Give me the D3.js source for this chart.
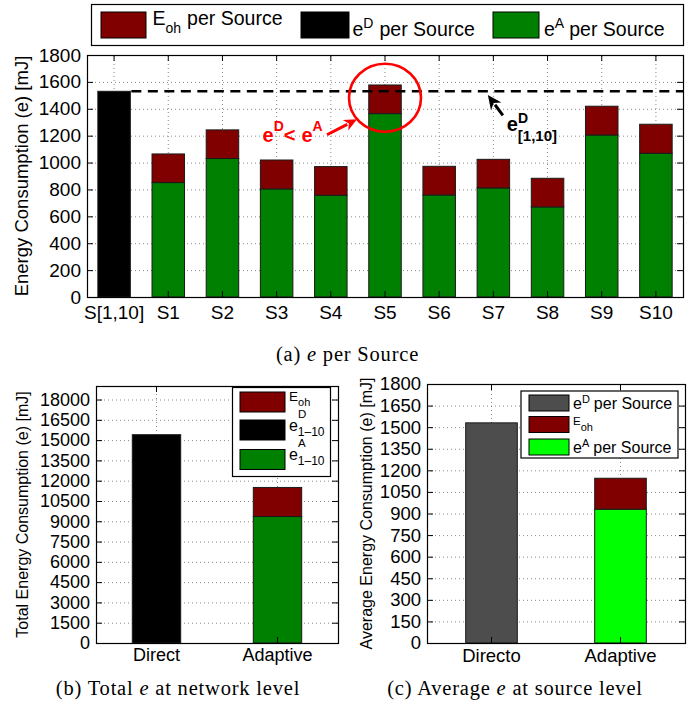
<!DOCTYPE html>
<html>
<head>
<meta charset="utf-8">
<script src="https://cdn.jsdelivr.net/npm/d3@7"></script>
<style>
  html, body { margin: 0; padding: 0; background: #fff; }
  svg { display: block; }
</style>
</head>
<body>
<svg id="fig" width="693" height="710"></svg>
<script>
// ---- (a) energy per source, mJ ----
const sourceLabels = ["S[1,10]", "S1", "S2", "S3", "S4", "S5", "S6", "S7", "S8", "S9", "S10"];
const directPerSource = [1530, 0, 0, 0, 0, 0, 0, 0, 0, 0, 0];
const adaptivePerSource = [0, 851, 1030, 804, 757, 1364, 759, 811, 670, 1205, 1069];
const overheadPerSource = [0, 213, 213, 215, 213, 213, 213, 213, 213, 214, 216];
const directReference = 1530;          // e^D over sources 1..10 (dashed level)
const ticksA = [0, 200, 400, 600, 800, 1000, 1200, 1400, 1600, 1800];

// ---- (b) total energy at network level, mJ ----
const totalLabels = ["Direct", "Adaptive"];
const totalDirect = [15400, 0];
const totalAdaptive = [0, 9350];
const totalOverhead = [0, 2150];
const ticksB = [0, 1500, 3000, 4500, 6000, 7500, 9000, 10500, 12000, 13500, 15000, 16500, 18000];

// ---- (c) average energy at source level, mJ ----
const avgLabels = ["Directo", "Adaptive"];
const avgDirect = [1530, 0];
const avgAdaptive = [0, 930];
const avgOverhead = [0, 215];
const ticksC = [0, 150, 300, 450, 600, 750, 900, 1050, 1200, 1350, 1500, 1650, 1800];

const COL = { oh: "#800000", green: "#008000", black: "#000000", gray: "#4d4d4d", lime: "#00ff00" };
const SANS = "'Liberation Sans', Arial, Helvetica, sans-serif";
const SERIF = "'Liberation Serif', 'Times New Roman', serif";

const svg = d3.select("#fig");
svg.append("rect").attr("width", 693).attr("height", 710).attr("fill", "#fff");

// Text built from tspans: each part has its own size and baseline offset
function rich(parent, x, y, parts, opts = {}) {
  const t = parent.append("text").attr("x", x).attr("y", y)
    .attr("font-family", SANS).attr("fill", opts.fill || "#000")
    .attr("font-weight", opts.bold ? "bold" : "normal");
  let cur = 0;
  parts.forEach(p => {
    const off = p.off || 0;
    const ts = t.append("tspan").text(p.t).attr("font-size", p.size).attr("dy", off - cur);
    cur = off;
    if (p.dx) ts.attr("dx", p.dx);
    if (p.x != null) ts.attr("x", x + p.x);
  });
  return t;
}

function arrow(g, x1, y1, x2, y2, color, width, head, half) {
  const a = Math.atan2(y2 - y1, x2 - x1);
  const bx = x2 - head * Math.cos(a), by = y2 - head * Math.sin(a);
  g.append("line").attr("x1", x1).attr("y1", y1).attr("x2", bx + 2 * Math.cos(a)).attr("y2", by + 2 * Math.sin(a))
    .attr("stroke", color).attr("stroke-width", width);
  const nx = -Math.sin(a), ny = Math.cos(a);
  g.append("path")
    .attr("d", `M${x2},${y2}L${bx + half * nx},${by + half * ny}L${x2 - head * 0.7 * Math.cos(a)},${y2 - head * 0.7 * Math.sin(a)}L${bx - half * nx},${by - half * ny}Z`)
    .attr("fill", color);
}

// One MATLAB-style axes: dotted grid, inward ticks on all four sides, boxed frame
function makePanel(cfg) {
  const g = svg.append("g").attr("transform", `translate(${cfg.left},${cfg.top})`);
  const x = d3.scaleBand().domain(cfg.cats).range([0, cfg.width])
    .paddingInner(cfg.pad).paddingOuter(cfg.pad / 2);
  const y = d3.scaleLinear().domain([0, cfg.yMax]).range([cfg.height, 0]);

  const gridStyle = s => {
    s.select(".domain").remove();
    s.selectAll("line").attr("stroke", "#8a8a8a").attr("stroke-width", 1).attr("stroke-dasharray", "1,3");
  };
  g.append("g").call(d3.axisLeft(y).tickValues(cfg.ticks).tickSize(-cfg.width).tickFormat("")).call(gridStyle);
  g.append("g").attr("transform", `translate(0,${cfg.height})`)
    .call(d3.axisBottom(x).tickSize(-cfg.height).tickFormat("")).call(gridStyle);

  const layer = g.append("g");
  const front = g.append("g");

  const tickStyle = s => {
    s.select(".domain").remove();
    s.selectAll("line").attr("stroke", "#000").attr("stroke-width", 1);
    s.selectAll("text").attr("font-family", SANS).attr("font-size", cfg.tickFont).attr("fill", "#000");
  };
  front.append("g").call(d3.axisLeft(y).tickValues(cfg.ticks).tickFormat(d3.format("d"))
    .tickSizeInner(-6).tickSizeOuter(0).tickPadding(6)).call(tickStyle);
  front.append("g").attr("transform", `translate(${cfg.width},0)`)
    .call(d3.axisRight(y).tickValues(cfg.ticks).tickSizeInner(-6).tickSizeOuter(0).tickFormat("")).call(tickStyle);
  front.append("g").call(d3.axisTop(x).tickSizeInner(-6).tickSizeOuter(0).tickFormat("")).call(tickStyle);
  front.append("g").attr("transform", `translate(0,${cfg.height})`)
    .call(d3.axisBottom(x).tickSizeInner(-6).tickSizeOuter(0).tickPadding(cfg.xPad)).call(tickStyle);
  front.append("rect").attr("x", 0.5).attr("y", 0.5).attr("width", cfg.width).attr("height", cfg.height)
    .attr("fill", "none").attr("stroke", "#000").attr("stroke-width", 1.2);

  g.append("text")
    .attr("transform", `translate(${cfg.yLabelX - cfg.left},${cfg.height / 2}) rotate(-90)`)
    .attr("text-anchor", "middle").attr("font-family", SANS).attr("font-size", cfg.yLabelFont)
    .text(cfg.yLabel);

  return { g, x, y, layer, front, height: cfg.height, width: cfg.width };
}

// Stacked bar segments drawn from [base, base + value]
function bars(p, cats, values, bases, color) {
  p.layer.selectAll(null)
    .data(cats.map((c, i) => ({ c, v: values[i], b: bases ? bases[i] : 0 })).filter(d => d.v > 0))
    .join("rect")
    .attr("x", d => p.x(d.c))
    .attr("width", p.x.bandwidth())
    .attr("y", d => p.y(d.b + d.v))
    .attr("height", d => p.y(d.b) - p.y(d.b + d.v))
    .attr("fill", color).attr("stroke", "#1a1a1a").attr("stroke-width", 1);
}

function swatch(g, x, y, w, h, color) {
  g.append("rect").attr("x", x).attr("y", y).attr("width", w).attr("height", h)
    .attr("fill", color).attr("stroke", "#000").attr("stroke-width", 1);
}

// ================= (a) =================
const pA = makePanel({
  left: 87, top: 55, width: 596, height: 242, cats: sourceLabels, pad: 0.4,
  yMax: 1800, ticks: ticksA, tickFont: 19, xPad: 8.5,
  yLabel: "Energy Consumption (e) [mJ]", yLabelX: 28, yLabelFont: 18.5
});
bars(pA, sourceLabels, directPerSource, null, COL.black);
bars(pA, sourceLabels, adaptivePerSource, null, COL.green);
bars(pA, sourceLabels, overheadPerSource, adaptivePerSource, COL.oh);

// dashed e^D level
pA.layer.append("line")
  .attr("x1", pA.x(sourceLabels[0]) + pA.x.bandwidth() + 1).attr("x2", pA.width)
  .attr("y1", pA.y(directReference)).attr("y2", pA.y(directReference))
  .attr("stroke", "#000").attr("stroke-width", 2.6).attr("stroke-dasharray", "10,6.5");

// red highlight around S5
const s5x = pA.x("S5") + pA.x.bandwidth() / 2, s5y = pA.y(1482);
pA.front.append("ellipse").attr("cx", s5x).attr("cy", s5y).attr("rx", 36).attr("ry", 34)
  .attr("fill", "none").attr("stroke", "#ff0000").attr("stroke-width", 2.6);
arrow(pA.front, s5x - 58, s5y + 37, s5x - 28, s5y + 21.5, "#ff0000", 3, 13, 6);
rich(pA.front, s5x - 122.5, s5y + 44.5, [
  { t: "e", size: 20 }, { t: "D", size: 14, off: -11 }, { t: "<", size: 20, off: 0 },
  { t: "e", size: 20, dx: 6 }, { t: "A", size: 14, off: -11 }
], { bold: true, fill: "#ff0000" });

// e^D_[1,10] pointer
const s7x = pA.x("S7") + pA.x.bandwidth() / 2, lineY = pA.y(directReference);
arrow(pA.front, s7x + 9.5, lineY + 24, s7x - 5.5, lineY + 3.8, "#000", 3, 14, 6.5);
rich(pA.front, s7x + 13.5, lineY + 39.5, [
  { t: "e", size: 20 }, { t: "D", size: 14, off: -8 }, { t: "[1,10]", size: 15, off: 10, x: 11 }
], { bold: true });

// legend (a)
const legA = svg.append("g");
legA.append("rect").attr("x", 91.5).attr("y", 4.5).attr("width", 592).attr("height", 41)
  .attr("fill", "#fff").attr("stroke", "#000").attr("stroke-width", 1.2);
swatch(legA, 101, 12, 45, 26, COL.oh);
swatch(legA, 301, 12, 48, 26, COL.black);
swatch(legA, 493, 12, 46, 26, COL.green);
rich(legA, 152.5, 25, [
  { t: "E", size: 19.5 }, { t: "oh", size: 14, off: 8 }, { t: "per Source", size: 19.5, off: 0, dx: 6 }
]);
rich(legA, 352.5, 36, [
  { t: "e", size: 19.5 }, { t: "D", size: 14, off: -8 }, { t: "per Source", size: 19.5, off: 0, dx: 6 }
]);
rich(legA, 544, 36, [
  { t: "e", size: 19.5 }, { t: "A", size: 14, off: -8 }, { t: "per Source", size: 19.5, off: 0, dx: 5 }
]);

// ================= (b) =================
const pB = makePanel({
  left: 96, top: 386, width: 242, height: 257, cats: totalLabels, pad: 0.6,
  yMax: 19000, ticks: ticksB, tickFont: 18, xPad: 5.5,
  yLabel: "Total Energy Consumption (e) [mJ]", yLabelX: 28, yLabelFont: 16
});
bars(pB, totalLabels, totalDirect, null, COL.black);
bars(pB, totalLabels, totalAdaptive, null, COL.green);
bars(pB, totalLabels, totalOverhead, totalAdaptive, COL.oh);

const legB = svg.append("g");
legB.append("rect").attr("x", 232.5).attr("y", 387.5).attr("width", 98).attr("height", 89)
  .attr("fill", "#fff").attr("stroke", "#000").attr("stroke-width", 1.2);
swatch(legB, 240, 392, 45, 20, COL.oh);
swatch(legB, 240, 420, 45, 20, COL.black);
swatch(legB, 240, 449.5, 45, 20, COL.green);
rich(legB, 289, 401, [{ t: "E", size: 13.5 }, { t: "oh", size: 11, off: 5 }]);
rich(legB, 289, 430.5, [
  { t: "e", size: 16 }, { t: "D", size: 11.5, off: -13 }, { t: "1\u201310", size: 12, off: 5, x: 8.8 }
]);
rich(legB, 289, 460, [
  { t: "e", size: 16 }, { t: "A", size: 11.5, off: -13 }, { t: "1\u201310", size: 12, off: 5, x: 8.8 }
]);

// ================= (c) =================
const pC = makePanel({
  left: 427, top: 384, width: 258, height: 259, cats: avgLabels, pad: 0.6,
  yMax: 1800, ticks: ticksC, tickFont: 18.5, xPad: 6,
  yLabel: "Average Energy Consumption (e) [mJ]", yLabelX: 371.5, yLabelFont: 16
});
bars(pC, avgLabels, avgDirect, null, COL.gray);
bars(pC, avgLabels, avgAdaptive, null, COL.lime);
bars(pC, avgLabels, avgOverhead, avgAdaptive, COL.oh);

const legC = svg.append("g");
legC.append("rect").attr("x", 521).attr("y", 391).attr("width", 157).attr("height", 67)
  .attr("fill", "#fff").attr("stroke", "#000").attr("stroke-width", 1.2);
swatch(legC, 529, 395, 40, 16, COL.gray);
swatch(legC, 529, 416.5, 40, 16, COL.oh);
swatch(legC, 529, 439, 40, 16, COL.lime);
rich(legC, 573, 408.5, [
  { t: "e", size: 16 }, { t: "D", size: 11, off: -5.5 }, { t: "per Source", size: 16, off: 0, dx: 4 }
]);
rich(legC, 573, 425, [{ t: "E", size: 11.5 }, { t: "oh", size: 11, off: 6 }]);
rich(legC, 573, 452.5, [
  { t: "e", size: 16 }, { t: "A", size: 11, off: -5.5 }, { t: "per Source", size: 16, off: 0, dx: 4 }
]);

// ================= captions =================
function caption(cx, y, label, rest) {
  const t = svg.append("text").attr("x", cx).attr("y", y).attr("text-anchor", "middle")
    .attr("font-family", SERIF).attr("font-size", 20.5).attr("letter-spacing", 0.8).attr("fill", "#000");
  t.append("tspan").text(label + " ");
  t.append("tspan").attr("font-style", "italic").text("e");
  t.append("tspan").text(" " + rest);
}
caption(347.5, 361, "(a)", "per Source");
caption(178, 695, "(b) Total", "at network level");
caption(515, 695, "(c) Average", "at source level");
</script>
</body>
</html>
